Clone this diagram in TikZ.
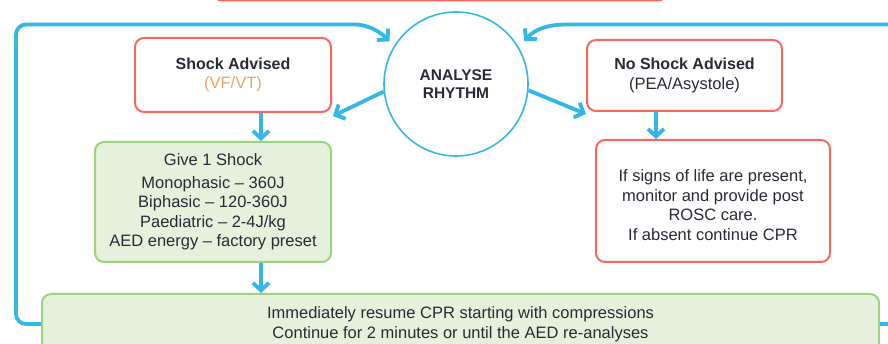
\documentclass[tikz,border=0pt]{standalone}
\usepackage{fontspec}
\setmainfont{Liberation Sans}
\usetikzlibrary{arrows.meta}
\definecolor{flowblue}{HTML}{35B6E6}
\definecolor{alertred}{HTML}{F7675E}
\definecolor{okgreen}{HTML}{9BD37E}
\definecolor{okfill}{HTML}{E5F1DB}
\definecolor{inktext}{HTML}{2A2A36}
\definecolor{rhythmnote}{HTML}{E9A46A}
\begin{document}
\begin{tikzpicture}[x=1pt,y=-1pt,
  font=\fontsize{16.5}{19.6}\selectfont, text=inktext,
  redbox/.style={draw=alertred, line width=2pt, rounded corners=9pt, fill=white,
    align=center, inner sep=0pt},
  greenbox/.style={draw=okgreen, fill=okfill, line width=2pt, rounded corners=9pt,
    align=center, inner sep=0pt},
  title/.style={font=\fontsize{16}{19.6}\selectfont\bfseries},
  flowline/.style={draw=flowblue, line width=3.8pt},
  flow/.style={flowline, -{Straight Barb[length=7.5pt,width=16pt]}}]
\useasboundingbox (0,0) rectangle (888,344);
\clip (0,0) rectangle (888,344);

% decision circle
\node[circle, draw=flowblue, line width=1.6pt, minimum size=144pt, inner sep=0pt,
  align=center, font=\fontsize{15.5}{17.5}\selectfont\bfseries] (an) at (456,84)
  {ANALYSE\\RHYTHM};

% box above (only its lower edge shows)
\node[redbox, minimum width=454pt, minimum height=40pt] (top) at (440,-19.5) {};

% shockable branch
\node[redbox, minimum width=196pt, minimum height=74pt] (sa) at (233,75)
  {{\bfseries\fontsize{16}{19.6}\selectfont Shock Advised}\\\textcolor{rhythmnote}{(VF/VT)}};
\node[greenbox, minimum width=236pt, minimum height=120pt] (gs) at (213,202)
  {Give 1 Shock\\[3pt]Monophasic -- 360J\\Biphasic -- 120-360J\\Paediatric -- 2-4J/kg\\AED energy -- factory preset};

% non-shockable branch
\node[redbox, minimum width=195pt, minimum height=71pt] (ns) at (684.5,75.5)
  {{\bfseries\fontsize{16}{19.6}\selectfont No Shock Advised}\\(PEA/Asystole)};
\node[redbox, minimum width=234pt, minimum height=122pt] (rc) at (713,201) {};
\node[align=center, inner sep=0pt] (rctxt) at ([yshift=-4pt]rc.center)
  {If signs of life are present,\\monitor and provide post\\ROSC care.\\If absent continue CPR};

% CPR box
\node[greenbox, minimum width=837pt, minimum height=60pt] (cpr) at (460.5,324)
  {Immediately resume CPR starting with compressions\\Continue for 2 minutes or until the AED re-analyses};

% connectors
\coordinate (xl) at (261,0);
\coordinate (xr) at (656,0);
\draw[flow] (sa.south -| xl) -- (gs.north -| xl);
\draw[flow] (gs.south -| xl) -- (cpr.north -| xl);
\draw[flow] (ns.south -| xr) -- (rc.north -| xr);
\draw[flow] (an.186) -- ([shift={(1,3)}]sa.south east);
\draw[flow] (an.-5) -- ([shift={(0,2)}]ns.south west);

% loops back to the rhythm check
\coordinate (rin) at (892,24.5);
\coordinate (rout) at (892,324);
\draw[flow, rounded corners=10pt] (cpr.west) -| (16,24.5) -- (345,24.5)
  .. controls (366,24.5) and (378,30) .. ([shift={(-6,-2)}]an.146);
\draw[flow] (rin) -- (567,24.5)
  .. controls (546,24.5) and (534,30) .. ([shift={(8,-2)}]an.34);
\draw[flowline] (cpr.east) -- (rout);
\end{tikzpicture}
\end{document}
